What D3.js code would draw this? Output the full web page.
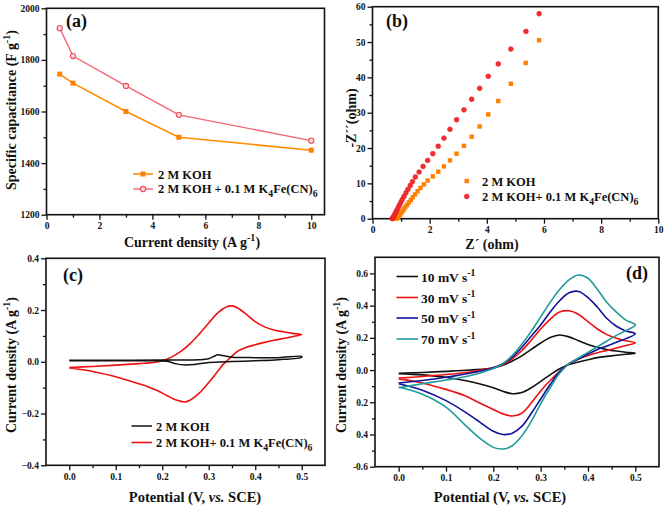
<!DOCTYPE html>
<html><head><meta charset="utf-8">
<script src="https://cdn.jsdelivr.net/npm/d3@7"></script>
<style>body{margin:0;background:#fff}svg{display:block}</style>
</head><body>
<svg id="c" width="666" height="506"></svg>
<script>
// ---------- DATA ----------
// (a) specific capacitance
const aCurrent = [0.5, 1, 3, 5, 10];
const aKOH = [1745, 1710, 1600, 1500, 1450];
const aFe = [1923, 1815, 1699, 1587, 1487];
// (b) Nyquist
const bKOH_x = [0.82,0.85,0.88,0.92,0.96,1.00,1.05,1.10,1.15,1.21,1.27,1.34,1.41,1.49,1.58,1.68,1.80,1.93,2.11,2.30,2.50,2.71,2.94,3.20,3.47,3.75,4.05,4.40,4.84,5.36,5.83];
const bKOH_y = [0,0.1,0.35,0.7,1.1,1.6,2.1,2.7,3.3,3.9,4.6,5.3,6.1,6.9,7.8,8.7,9.7,10.8,12.0,13.3,14.8,16.5,18.4,20.6,23.2,26.1,29.5,33.3,38.2,44.1,50.5];
const bFe_x = [0.69,0.71,0.73,0.76,0.79,0.82,0.86,0.90,0.94,0.99,1.04,1.10,1.17,1.24,1.32,1.40,1.50,1.63,1.77,1.93,2.11,2.30,2.50,2.71,2.94,3.20,3.47,3.75,4.05,4.40,4.84,5.37,5.83];
const bFe_y = [0,0.2,0.5,0.9,1.4,1.9,2.5,3.1,3.8,4.6,5.4,6.3,7.3,8.3,9.4,10.5,11.8,13.2,14.8,16.5,18.4,20.5,22.8,25.3,28.0,30.8,33.8,36.9,40.3,43.8,48.0,53.0,58.0];
// (c) CV, 2 M KOH vs 2 M KOH + K4Fe(CN)6 (forward then reverse sweep)
const cKOH_E = [0.00,0.10,0.20,0.28,0.30,0.31,0.32,0.33,0.35,0.40,0.45,0.50, 0.50,0.45,0.40,0.35,0.30,0.27,0.25,0.23,0.21,0.15,0.05,0.00];
const cKOH_j = [0.006,0.006,0.007,0.008,0.012,0.020,0.027,0.024,0.018,0.016,0.016,0.021, 0.018,0.008,0.004,0.001,-0.003,-0.010,-0.012,-0.008,0.002,0.004,0.004,0.004];
const cFe_E = [0.00,0.05,0.10,0.15,0.18,0.20,0.22,0.24,0.26,0.28,0.30,0.32,0.34,0.35,0.36,0.38,0.40,0.42,0.44,0.46,0.48,0.50, 0.48,0.46,0.44,0.42,0.40,0.38,0.36,0.35,0.34,0.33,0.32,0.30,0.28,0.26,0.25,0.23,0.21,0.19,0.17,0.15,0.12,0.09,0.06,0.03,0.00];
const cFe_j = [-0.022,-0.018,-0.013,-0.007,-0.003,0.004,0.018,0.040,0.070,0.108,0.150,0.190,0.214,0.216,0.210,0.185,0.155,0.135,0.123,0.116,0.110,0.105, 0.097,0.090,0.083,0.075,0.066,0.055,0.038,0.022,0.005,-0.012,-0.035,-0.080,-0.120,-0.148,-0.155,-0.148,-0.130,-0.112,-0.097,-0.085,-0.068,-0.053,-0.041,-0.031,-0.024];
// (d) CV at scan rates
const dE = [0.00,0.05,0.10,0.15,0.20,0.22,0.24,0.26,0.28,0.30,0.32,0.34,0.36,0.38,0.40,0.42,0.44,0.46,0.48,0.50, 0.48,0.46,0.44,0.42,0.40,0.38,0.36,0.34,0.32,0.30,0.28,0.26,0.24,0.22,0.20,0.17,0.14,0.10,0.05,0.00];
const d10 = [-0.020,-0.015,-0.008,0.000,0.012,0.030,0.056,0.088,0.128,0.168,0.202,0.218,0.206,0.182,0.158,0.140,0.127,0.118,0.111,0.105, 0.098,0.092,0.085,0.077,0.064,0.050,0.035,0.008,-0.030,-0.070,-0.110,-0.140,-0.147,-0.132,-0.110,-0.085,-0.065,-0.045,-0.030,-0.022];
const d30 = [-0.050,-0.040,-0.028,-0.012,0.015,0.035,0.070,0.120,0.185,0.255,0.315,0.360,0.368,0.345,0.300,0.255,0.220,0.197,0.182,0.170, 0.152,0.137,0.122,0.108,0.090,0.068,0.040,-0.010,-0.065,-0.130,-0.205,-0.268,-0.285,-0.272,-0.245,-0.203,-0.160,-0.120,-0.080,-0.055];
const d50 = [-0.080,-0.065,-0.045,-0.020,0.015,0.040,0.080,0.140,0.210,0.280,0.360,0.430,0.480,0.488,0.450,0.390,0.320,0.272,0.243,0.225, 0.195,0.172,0.150,0.128,0.100,0.068,0.040,-0.010,-0.090,-0.180,-0.270,-0.350,-0.392,-0.400,-0.380,-0.320,-0.260,-0.190,-0.125,-0.085];
const d70 = [-0.110,-0.085,-0.062,-0.035,0.010,0.040,0.090,0.160,0.240,0.330,0.420,0.500,0.560,0.590,0.570,0.500,0.420,0.360,0.310,0.280, 0.245,0.215,0.180,0.145,0.110,0.075,0.040,-0.020,-0.110,-0.210,-0.320,-0.410,-0.470,-0.490,-0.480,-0.420,-0.340,-0.230,-0.150,-0.105];
const dRates = ["10","30","50","70"];
// tick labels
const aXTicks=[0,2,4,6,8,10], aYTicks=[1200,1400,1600,1800,2000];
const bXTicks=[0,2,4,6,8,10], bYTicks=[0,10,20,30,40,50,60];
const cXTicks=[0,0.1,0.2,0.3,0.4,0.5], cYTicks=[-0.4,-0.2,0,0.2,0.4];
const dXTicks=[0,0.1,0.2,0.3,0.4,0.5], dYTicks=[-0.6,-0.4,-0.2,0,0.2,0.4,0.6];
const dYLabels=["-0.6","0.4","0.2","0.0","0.2","0.4","0.6"];

// ---------- DRAW ----------
const svg = d3.select("#c");
const FONT = "'Liberation Serif','Times New Roman',serif";
svg.append("rect").attr("width",666).attr("height",506).attr("fill","#fff");

function rich(g, parts, size){
  const t = g.append("text").attr("font-family",FONT).attr("font-weight","bold").attr("font-size",size).attr("fill","#111");
  parts.forEach(p=>{
    const [s,type]=p;
    const ts=t.append("tspan").text(s);
    if(type==="sup"){ts.attr("font-size",size*0.72).attr("dy",-size*0.4);}
    else if(type==="sub"){ts.attr("font-size",size*0.78).attr("dy",size*0.3);}
    else if(type==="i"){ts.attr("font-style","italic");}
  });
  let prevShift=0;
  t.selectAll("tspan").each(function(){
    const el=d3.select(this);
    const dy=+el.attr("dy")||0;
    el.attr("dy", dy - prevShift);
    prevShift = dy;
  });
  return t;
}

function panel(cfg){
  const g = svg.append("g");
  const x = d3.scaleLinear().domain(cfg.xd).range([cfg.l,cfg.r]);
  const y = d3.scaleLinear().domain(cfg.yd).range([cfg.b,cfg.t]);
  g.append("g").attr("transform",`translate(0,${cfg.b})`)
    .call(d3.axisBottom(x).tickValues(cfg.xMinor).tickSize(3).tickFormat(""))
    .call(s=>s.select(".domain").remove());
  g.append("g").attr("transform",`translate(${cfg.l},0)`)
    .call(d3.axisLeft(y).tickValues(cfg.yMinor).tickSize(3).tickFormat(""))
    .call(s=>s.select(".domain").remove());
  const xa = g.append("g").attr("transform",`translate(0,${cfg.b})`)
    .call(d3.axisBottom(x).tickValues(cfg.xTicks).tickSize(5).tickPadding(3).tickFormat(cfg.xf));
  const ya = g.append("g").attr("transform",`translate(${cfg.l},0)`)
    .call(d3.axisLeft(y).tickValues(cfg.yTicks).tickSize(5).tickPadding(2).tickFormat(cfg.yf));
  [xa,ya].forEach(a=>{a.select(".domain").remove();
    a.selectAll("text").attr("font-family",FONT).attr("font-weight","bold").attr("font-size",9.5).attr("fill","#111");});
  g.selectAll(".tick line").attr("stroke","#111").attr("stroke-width",1.3);
  g.append("rect").attr("x",cfg.l).attr("y",cfg.t).attr("width",cfg.r-cfg.l).attr("height",cfg.b-cfg.t)
    .attr("fill","none").attr("stroke","#111").attr("stroke-width",1.6);
  return {g,x,y};
}

const lineG = (x,y)=>d3.line().x(d=>x(d[0])).y(d=>y(d[1]));
const zip=(a,b)=>a.map((v,i)=>[v,b[i]]);
const LEG=12.5, TITLE=14, LAB=18;

// ===== (a) =====
{
  const P = panel({l:46.5,r:324.5,t:8.3,b:214.7,xd:[0,10.5],yd:[1200,2000],
    xTicks:aXTicks,yTicks:aYTicks,xMinor:[1,3,5,7,9],yMinor:[1300,1500,1700,1900],
    xf:d3.format("d"),yf:d3.format("d")});
  const {g,x,y}=P;
  const s1=zip(aCurrent,aKOH), s2=zip(aCurrent,aFe);
  g.append("path").attr("d",lineG(x,y)(s1)).attr("fill","none").attr("stroke","#ff8c00").attr("stroke-width",1.6);
  g.append("path").attr("d",lineG(x,y)(s2)).attr("fill","none").attr("stroke","#f26672").attr("stroke-width",1.4);
  g.selectAll(".sq").data(s1).join("rect").attr("x",d=>x(d[0])-2.5).attr("y",d=>y(d[1])-2.5).attr("width",5).attr("height",5).attr("fill","#ff8000");
  g.selectAll(".ci").data(s2).join("circle").attr("cx",d=>x(d[0])).attr("cy",d=>y(d[1])).attr("r",2.6).attr("fill","#ffd8d8").attr("stroke","#ee4a58").attr("stroke-width",1.1);
  g.append("line").attr("x1",133).attr("x2",153).attr("y1",174).attr("y2",174).attr("stroke","#ff8c00").attr("stroke-width",1.6);
  g.append("rect").attr("x",140.5).attr("y",171.5).attr("width",5).attr("height",5).attr("fill","#ff8000");
  g.append("line").attr("x1",133).attr("x2",153).attr("y1",189).attr("y2",189).attr("stroke","#f26672").attr("stroke-width",1.4);
  g.append("circle").attr("cx",143).attr("cy",189).attr("r",2.6).attr("fill","#ffd8d8").attr("stroke","#ee4a58").attr("stroke-width",1.1);
  rich(g,[["2 M KOH"]],LEG).attr("x",158).attr("y",178.5);
  rich(g,[["2 M KOH + 0.1 M K"],["4","sub"],["Fe(CN)"],["6","sub"]],LEG).attr("x",158).attr("y",193);
  rich(g,[["(a)"]],LAB).attr("x",66).attr("y",27);
  rich(g,[["Current density (A g"],["-1","sup"],[")"]],TITLE).attr("x",192).attr("y",247).attr("text-anchor","middle");
  rich(g,[["Specific capacitance (F g"],["-1","sup"],[")"]],TITLE).attr("transform","translate(16,110) rotate(-90)").attr("text-anchor","middle");
}

// ===== (b) =====
{
  const P = panel({l:372.5,r:658.3,t:6.7,b:218.7,xd:[0,10],yd:[0,60],
    xTicks:bXTicks,yTicks:bYTicks,xMinor:[1,3,5,7,9],yMinor:[5,15,25,35,45,55],
    xf:d3.format("d"),yf:d3.format("d")});
  const {g,x,y}=P;
  const s1=zip(bKOH_x,bKOH_y), s2=zip(bFe_x,bFe_y);
  g.selectAll(".sq").data(s1).join("rect").attr("x",d=>x(d[0])-2.2).attr("y",d=>y(d[1])-2.2).attr("width",4.4).attr("height",4.4).attr("fill","#ff7f00");
  g.selectAll(".ci").data(s2).join("circle").attr("cx",d=>x(d[0])).attr("cy",d=>y(d[1])).attr("r",2.4).attr("fill","#f03030").attr("stroke","#e81818").attr("stroke-width",0.6);
  g.append("rect").attr("x",464.5).attr("y",178.8).attr("width",4.4).attr("height",4.4).attr("fill","#ff7f00");
  g.append("circle").attr("cx",466.7).attr("cy",196.5).attr("r",2.4).attr("fill","#f03030").attr("stroke","#e81818").attr("stroke-width",0.6);
  rich(g,[["2 M KOH"]],LEG).attr("x",482).attr("y",185.5);
  rich(g,[["2 M KOH+ 0.1 M K"],["4","sub"],["Fe(CN)"],["6","sub"]],LEG).attr("x",482).attr("y",201);
  rich(g,[["(b)"]],LAB).attr("x",386).attr("y",27);
  rich(g,[["Z´ (ohm)"]],TITLE).attr("x",492).attr("y",249).attr("text-anchor","middle");
  rich(g,[["-Z´´(ohm)"]],TITLE).attr("transform","translate(356,118) rotate(-90)").attr("text-anchor","middle");
}

// ===== (c) =====
{
  const P = panel({l:46,r:325,t:258.3,b:465.3,xd:[-0.05,0.55],yd:[-0.4,0.4],
    xTicks:cXTicks,yTicks:cYTicks,xMinor:[0.05,0.15,0.25,0.35,0.45],yMinor:[-0.3,-0.1,0.1,0.3],
    xf:d3.format(".1f"),yf:d3.format(".1f")});
  const {g,x,y}=P;
  const ln=d3.line().x(d=>x(d[0])).y(d=>y(d[1])).curve(d3.curveCatmullRom.alpha(0.5));
  g.append("path").attr("d",ln(zip(cFe_E,cFe_j))).attr("fill","none").attr("stroke","#ee1111").attr("stroke-width",1.6);
  g.append("path").attr("d",ln(zip(cKOH_E,cKOH_j))).attr("fill","none").attr("stroke","#111").attr("stroke-width",1.5);
  g.append("line").attr("x1",131.5).attr("x2",152).attr("y1",426).attr("y2",426).attr("stroke","#111").attr("stroke-width",1.5);
  g.append("line").attr("x1",131.5).attr("x2",152).attr("y1",442.5).attr("y2",442.5).attr("stroke","#ee1111").attr("stroke-width",1.6);
  rich(g,[["2 M KOH"]],LEG).attr("x",156).attr("y",430.5);
  rich(g,[["2 M KOH+ 0.1 M K"],["4","sub"],["Fe(CN)"],["6","sub"]],LEG).attr("x",156).attr("y",447);
  rich(g,[["(c)"]],LAB).attr("x",63).attr("y",281);
  rich(g,[["Potential (V, "],["vs.","i"],[" SCE)"]],TITLE+0.5).attr("x",195).attr("y",502).attr("text-anchor","middle");
  rich(g,[["Current density (A g"],["-1","sup"],[")"]],TITLE).attr("transform","translate(16,365) rotate(-90)").attr("text-anchor","middle");
}

// ===== (d) =====
{
  const P = panel({l:375,r:659,t:257.3,b:466.7,xd:[-0.05,0.55],yd:[-0.6,0.7],
    xTicks:dXTicks,yTicks:dYTicks,xMinor:[0.05,0.15,0.25,0.35,0.45],yMinor:[-0.5,-0.3,-0.1,0.1,0.3,0.5],
    xf:d3.format(".1f"),yf:(d,i)=>dYLabels[i]});
  const {g,x,y}=P;
  const ln=d3.line().x(d=>x(d[0])).y(d=>y(d[1])).curve(d3.curveCatmullRom.alpha(0.5));
  const cols=["#111111","#ee1111","#10109a","#1f9a9a"];
  [d10,d30,d50,d70].forEach((s,i)=>{
    g.append("path").attr("d",ln(zip(dE,s))).attr("fill","none").attr("stroke",cols[i]).attr("stroke-width",1.6);
  });
  const ly=[276.5,297.5,318,339];
  dRates.forEach((r,i)=>{
    g.append("line").attr("x1",396.5).attr("x2",418).attr("y1",ly[i]).attr("y2",ly[i]).attr("stroke",cols[i]).attr("stroke-width",1.6);
    rich(g,[[r+" mV s"],["-1","sup"]],13.5).attr("x",421).attr("y",ly[i]+5);
  });
  rich(g,[["(d)"]],LAB).attr("x",626).attr("y",279);
  rich(g,[["Potential (V, "],["vs.","i"],[" SCE)"]],TITLE+0.5).attr("x",500).attr("y",502).attr("text-anchor","middle");
  rich(g,[["Current density (A g"],["-1","sup"],[")"]],TITLE).attr("transform","translate(346,365) rotate(-90)").attr("text-anchor","middle");
}
</script>
</body></html>
